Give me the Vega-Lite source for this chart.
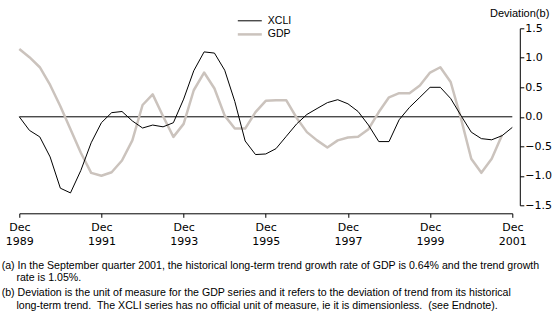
{
  "$schema": "https://vega.github.io/schema/vega-lite/v6.json",
  "width": 493,
  "height": 177,
  "autosize": {"type": "none"},
  "padding": {"left": 19.3, "top": 28.3, "right": 47.7, "bottom": 115.7},
  "background": "white",
  "config": {
    "view": {"stroke": null},
    "axis": {"grid": false, "domainColor": "black", "tickColor": "black", "labelColor": "black", "labelFont": "DejaVu Sans", "labelFontSize": 11, "tickSize": 4},
    "legend": {"labelFont": "Liberation Sans", "labelFontSize": 10.5, "labelColor": "black"}
  },
  "title": {
    "text": ["(a) In the September quarter 2001, the historical long-term trend growth rate of GDP is 0.64% and the trend growth", "\u200b\u00a0\u00a0\u00a0\u00a0\u00a0rate is 1.05%."],
    "subtitle": ["(b) Deviation is the unit of measure for the GDP series and it refers to the deviation of trend from its historical", "\u200b\u00a0\u00a0\u00a0\u00a0\u00a0long-term trend.\u00a0 The XCLI series has no official unit of measure, ie it is dimensionless.\u00a0 (see Endnote)."],
    "orient": "bottom",
    "anchor": "start",
    "frame": "group",
    "offset": 14.5,
    "dx": -17.6,
    "font": "Liberation Sans",
    "fontSize": 10.6,
    "fontWeight": "normal",
    "color": "black",
    "lineHeight": 12.5,
    "subtitleFont": "Liberation Sans",
    "subtitleFontSize": 10.6,
    "subtitleColor": "black",
    "subtitleLineHeight": 12.5,
    "subtitlePadding": 4.5
  },
  "layer": [
    {
      "data": {"values": [{"level": 0}]},
      "mark": {"type": "rule", "color": "black", "strokeWidth": 1},
      "encoding": {
        "y": {"field": "level", "type": "quantitative", "scale": {"domain": [-1.5, 1.5], "nice": false, "zero": false},
          "axis": {"orient": "right", "values": [-1.5, -1, -0.5, 0, 0.5, 1, 1.5], "format": ".1f", "title": "Deviation(b)", "titleAngle": 0, "titleAlign": "right", "titleBaseline": "alphabetic", "titleX": 29, "titleY": -12.3, "titleFont": "Liberation Sans", "titleFontSize": 11, "titleFontWeight": "normal", "titleColor": "black", "offset": 7.5, "labelPadding": 1}}
      }
    },
    {
      "data": {"values": [
        {"date": "1989-12-01", "series": "GDP", "value": 1.15},
        {"date": "1990-03-01", "series": "GDP", "value": 1.01},
        {"date": "1990-06-01", "series": "GDP", "value": 0.84},
        {"date": "1990-09-01", "series": "GDP", "value": 0.54},
        {"date": "1990-12-01", "series": "GDP", "value": 0.18},
        {"date": "1991-03-01", "series": "GDP", "value": -0.21},
        {"date": "1991-06-01", "series": "GDP", "value": -0.61},
        {"date": "1991-09-01", "series": "GDP", "value": -0.95},
        {"date": "1991-12-01", "series": "GDP", "value": -1.0},
        {"date": "1992-03-01", "series": "GDP", "value": -0.94},
        {"date": "1992-06-01", "series": "GDP", "value": -0.74},
        {"date": "1992-09-01", "series": "GDP", "value": -0.4},
        {"date": "1992-12-01", "series": "GDP", "value": 0.2},
        {"date": "1993-03-01", "series": "GDP", "value": 0.38},
        {"date": "1993-06-01", "series": "GDP", "value": 0.01},
        {"date": "1993-09-01", "series": "GDP", "value": -0.34},
        {"date": "1993-12-01", "series": "GDP", "value": -0.12},
        {"date": "1994-03-01", "series": "GDP", "value": 0.45},
        {"date": "1994-06-01", "series": "GDP", "value": 0.75},
        {"date": "1994-09-01", "series": "GDP", "value": 0.48},
        {"date": "1994-12-01", "series": "GDP", "value": 0.02},
        {"date": "1995-03-01", "series": "GDP", "value": -0.2},
        {"date": "1995-06-01", "series": "GDP", "value": -0.2},
        {"date": "1995-09-01", "series": "GDP", "value": 0.08},
        {"date": "1995-12-01", "series": "GDP", "value": 0.27},
        {"date": "1996-03-01", "series": "GDP", "value": 0.28},
        {"date": "1996-06-01", "series": "GDP", "value": 0.28},
        {"date": "1996-09-01", "series": "GDP", "value": -0.02},
        {"date": "1996-12-01", "series": "GDP", "value": -0.26},
        {"date": "1997-03-01", "series": "GDP", "value": -0.4},
        {"date": "1997-06-01", "series": "GDP", "value": -0.52},
        {"date": "1997-09-01", "series": "GDP", "value": -0.4},
        {"date": "1997-12-01", "series": "GDP", "value": -0.35},
        {"date": "1998-03-01", "series": "GDP", "value": -0.34},
        {"date": "1998-06-01", "series": "GDP", "value": -0.21},
        {"date": "1998-09-01", "series": "GDP", "value": 0.08},
        {"date": "1998-12-01", "series": "GDP", "value": 0.33},
        {"date": "1999-03-01", "series": "GDP", "value": 0.4},
        {"date": "1999-06-01", "series": "GDP", "value": 0.4},
        {"date": "1999-09-01", "series": "GDP", "value": 0.53},
        {"date": "1999-12-01", "series": "GDP", "value": 0.75},
        {"date": "2000-03-01", "series": "GDP", "value": 0.84},
        {"date": "2000-06-01", "series": "GDP", "value": 0.59},
        {"date": "2000-09-01", "series": "GDP", "value": -0.03},
        {"date": "2000-12-01", "series": "GDP", "value": -0.71},
        {"date": "2001-03-01", "series": "GDP", "value": -0.95},
        {"date": "2001-06-01", "series": "GDP", "value": -0.71},
        {"date": "2001-09-01", "series": "GDP", "value": -0.31},
        {"date": "1989-12-01", "series": "XCLI", "value": 0.0},
        {"date": "1990-03-01", "series": "XCLI", "value": -0.23},
        {"date": "1990-06-01", "series": "XCLI", "value": -0.34},
        {"date": "1990-09-01", "series": "XCLI", "value": -0.68},
        {"date": "1990-12-01", "series": "XCLI", "value": -1.21},
        {"date": "1991-03-01", "series": "XCLI", "value": -1.29},
        {"date": "1991-06-01", "series": "XCLI", "value": -0.91},
        {"date": "1991-09-01", "series": "XCLI", "value": -0.44},
        {"date": "1991-12-01", "series": "XCLI", "value": -0.1},
        {"date": "1992-03-01", "series": "XCLI", "value": 0.07},
        {"date": "1992-06-01", "series": "XCLI", "value": 0.09},
        {"date": "1992-09-01", "series": "XCLI", "value": -0.07},
        {"date": "1992-12-01", "series": "XCLI", "value": -0.19},
        {"date": "1993-03-01", "series": "XCLI", "value": -0.14},
        {"date": "1993-06-01", "series": "XCLI", "value": -0.17},
        {"date": "1993-09-01", "series": "XCLI", "value": -0.1},
        {"date": "1993-12-01", "series": "XCLI", "value": 0.3},
        {"date": "1994-03-01", "series": "XCLI", "value": 0.78},
        {"date": "1994-06-01", "series": "XCLI", "value": 1.1},
        {"date": "1994-09-01", "series": "XCLI", "value": 1.08},
        {"date": "1994-12-01", "series": "XCLI", "value": 0.79},
        {"date": "1995-03-01", "series": "XCLI", "value": 0.26},
        {"date": "1995-06-01", "series": "XCLI", "value": -0.41},
        {"date": "1995-09-01", "series": "XCLI", "value": -0.64},
        {"date": "1995-12-01", "series": "XCLI", "value": -0.63},
        {"date": "1996-03-01", "series": "XCLI", "value": -0.54},
        {"date": "1996-06-01", "series": "XCLI", "value": -0.33},
        {"date": "1996-09-01", "series": "XCLI", "value": -0.12},
        {"date": "1996-12-01", "series": "XCLI", "value": 0.04},
        {"date": "1997-03-01", "series": "XCLI", "value": 0.14},
        {"date": "1997-06-01", "series": "XCLI", "value": 0.24},
        {"date": "1997-09-01", "series": "XCLI", "value": 0.29},
        {"date": "1997-12-01", "series": "XCLI", "value": 0.22},
        {"date": "1998-03-01", "series": "XCLI", "value": 0.09},
        {"date": "1998-06-01", "series": "XCLI", "value": -0.14},
        {"date": "1998-09-01", "series": "XCLI", "value": -0.42},
        {"date": "1998-12-01", "series": "XCLI", "value": -0.42},
        {"date": "1999-03-01", "series": "XCLI", "value": -0.05},
        {"date": "1999-06-01", "series": "XCLI", "value": 0.16},
        {"date": "1999-09-01", "series": "XCLI", "value": 0.33},
        {"date": "1999-12-01", "series": "XCLI", "value": 0.5},
        {"date": "2000-03-01", "series": "XCLI", "value": 0.5},
        {"date": "2000-06-01", "series": "XCLI", "value": 0.31},
        {"date": "2000-09-01", "series": "XCLI", "value": 0.02},
        {"date": "2000-12-01", "series": "XCLI", "value": -0.26},
        {"date": "2001-03-01", "series": "XCLI", "value": -0.37},
        {"date": "2001-06-01", "series": "XCLI", "value": -0.39},
        {"date": "2001-09-01", "series": "XCLI", "value": -0.32},
        {"date": "2001-12-01", "series": "XCLI", "value": -0.18}
      ]},
      "mark": {"type": "line", "strokeJoin": "round"},
      "encoding": {
        "x": {"field": "date", "type": "temporal",
          "scale": {"type": "utc", "domain": [{"year": 1989, "month": 12, "date": 1, "utc": true}, {"year": 2001, "month": 12, "date": 1, "utc": true}]},
          "axis": {"title": null, "offset": 8, "labelPadding": 4, "labelLineHeight": 14, "labelFlush": false, "labelOverlap": false, "labelBound": false,
            "values": [{"year": 1989, "month": 12, "date": 1, "utc": true}, {"year": 1991, "month": 12, "date": 1, "utc": true}, {"year": 1993, "month": 12, "date": 1, "utc": true}, {"year": 1995, "month": 12, "date": 1, "utc": true}, {"year": 1997, "month": 12, "date": 1, "utc": true}, {"year": 1999, "month": 12, "date": 1, "utc": true}, {"year": 2001, "month": 12, "date": 1, "utc": true}],
            "labelExpr": "[utcFormat(datum.value, '%b'), utcFormat(datum.value, '%Y')]"}},
        "y": {"field": "value", "type": "quantitative", "scale": {"domain": [-1.5, 1.5], "nice": false, "zero": false},
          "axis": {"orient": "right", "values": [-1.5, -1, -0.5, 0, 0.5, 1, 1.5], "format": ".1f", "title": "Deviation(b)", "titleAngle": 0, "titleAlign": "right", "titleBaseline": "alphabetic", "titleX": 29, "titleY": -12.3, "titleFont": "Liberation Sans", "titleFontSize": 11, "titleFontWeight": "normal", "titleColor": "black", "offset": 7.5, "labelPadding": 1}},
        "color": {"field": "series", "type": "nominal", "scale": {"domain": ["XCLI", "GDP"], "range": ["#000000", "#cbc3bd"]},
          "legend": {"orient": "none", "legendX": 223, "legendY": -14, "title": null, "symbolType": "M-2,0H2", "symbolSize": 144, "labelOffset": 10.5, "rowPadding": 0.6}},
        "strokeWidth": {"field": "series", "type": "nominal", "scale": {"domain": ["XCLI", "GDP"], "range": [1, 2.5]},
          "legend": {"orient": "none", "legendX": 223, "legendY": -14, "title": null, "symbolType": "M-2,0H2", "symbolSize": 144, "labelOffset": 10.5, "rowPadding": 0.6}}
      }
    }
  ]
}
